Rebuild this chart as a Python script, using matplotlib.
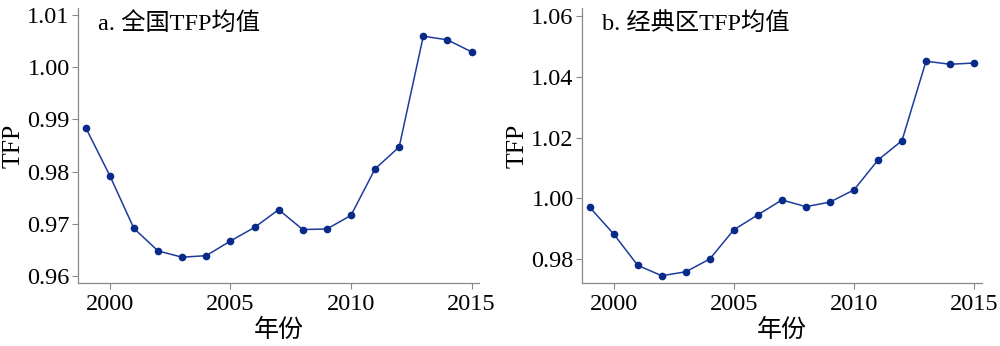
import matplotlib
matplotlib.use("Agg")
import matplotlib.pyplot as plt

plt.rcParams['font.family'] = ['Liberation Serif', 'Noto Sans CJK SC']

years = list(range(1999, 2016))
tfp_all = [0.9884, 0.9792, 0.9691, 0.9648, 0.9636, 0.9639, 0.9667, 0.9693, 0.9727,
           0.9689, 0.9690, 0.9716, 0.9805, 0.9847, 1.0059, 1.0052, 1.0029]
tfp_classic = [0.9971, 0.9883, 0.9780, 0.9746, 0.9759, 0.9801, 0.9897, 0.9946, 0.9995,
               0.9973, 0.9988, 1.0028, 1.0126, 1.0190, 1.0451, 1.0441, 1.0445]

titles = ['a. 全国TFP均值', 'b. 经典区TFP均值']
yticks_all = [0.96, 0.97, 0.98, 0.99, 1.00, 1.01]
yticks_classic = [0.98, 1.00, 1.02, 1.04, 1.06]

fig = plt.figure(figsize=(10, 3.46), dpi=100)
ax1 = fig.add_axes([0.078, 0.182, 0.401, 0.795])
ax2 = fig.add_axes([0.582, 0.182, 0.3995, 0.795])

panels = [(ax1, tfp_all, yticks_all, (0.95866, 1.0113)),
          (ax2, tfp_classic, yticks_classic, (0.9722, 1.0626))]

for (ax, vals, yt, ylim), title in zip(panels, titles):
    ax.plot(years, vals, color='#1c3c9c', linewidth=1.1, marker='o',
            markersize=4.5, markerfacecolor='#0a2a8a', markeredgecolor='#0a2a8a')
    ax.set_xlim(1998.68, 2015.31)
    ax.set_ylim(*ylim)
    ax.set_xticks([2000, 2005, 2010, 2015])
    ax.set_yticks(yt)
    ax.set_yticklabels(['%.2f' % v for v in yt])
    for s in ['top', 'right']:
        ax.spines[s].set_visible(False)
    for s in ['left', 'bottom']:
        ax.spines[s].set_color('#888888')
        ax.spines[s].set_linewidth(0.9)
    ax.tick_params(axis='both', colors='#888888', labelcolor='black', labelsize=17.5,
                   length=4, width=0.8, pad=2)
    ax.tick_params(axis='x', pad=4)
    ax.set_xlabel('年份', fontsize=18, labelpad=3)
    ax.set_ylabel('TFP', fontsize=18.5, labelpad=2)
    ax.text(0.05, 0.985, title, transform=ax.transAxes, fontsize=17.5,
            va='top', ha='left')

fig.savefig('out.png', dpi=100)
